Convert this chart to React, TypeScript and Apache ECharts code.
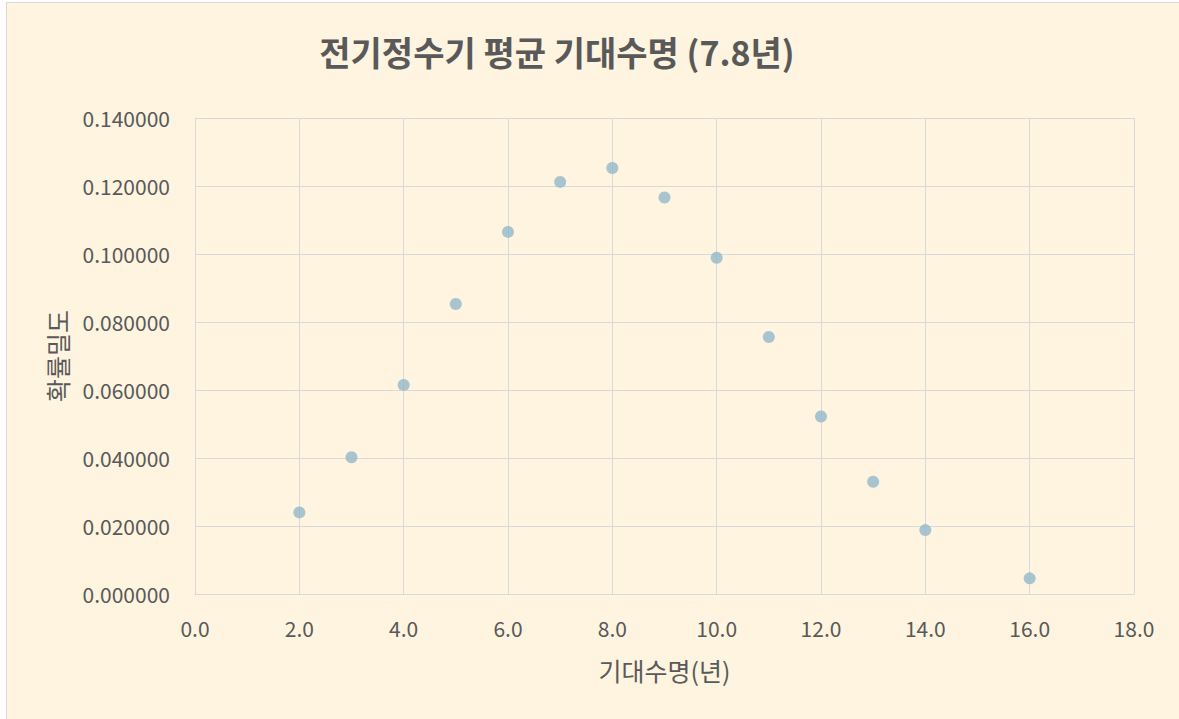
import React, { useEffect, useRef } from "react";
import * as echarts from "echarts";

const titleText = "전기정수기 평균 기대수명 (7.8년)";
const xAxisTitle = "기대수명(년)";
const yAxisTitle = "확률밀도";
const lifeYears = [2, 3, 4, 5, 6, 7, 8, 9, 10, 11, 12, 13, 14, 16];
const density = [0.0240, 0.0402, 0.0615, 0.0853, 0.1065, 0.1212, 0.1253, 0.1166, 0.0989, 0.0756, 0.0522, 0.0330, 0.0188, 0.0046];

const FONT = "'Noto Sans CJK KR', 'Noto Sans', sans-serif";

export default function App() {
  const ref = useRef<HTMLDivElement>(null);
  useEffect(() => {
    if (!ref.current) return;
    const chart = echarts.init(ref.current, undefined, { renderer: "svg" });
    const data = lifeYears.map((x, i) => [x, density[i]]);
    chart.setOption({
      animation: false,
      backgroundColor: "#FEF4DF",
      textStyle: { fontFamily: FONT },
      graphic: [
        {
          type: "text",
          x: 550,
          y: 48,
          style: {
            text: titleText,
            font: `bold 34px ${FONT}`,
            fill: "#595959",
            textAlign: "center",
            textVerticalAlign: "middle",
          },
        },
      ],
      grid: { left: 188, top: 115, right: 45, bottom: 125, containLabel: false },
      xAxis: {
        type: "value",
        min: 0,
        max: 18,
        interval: 2,
        name: xAxisTitle,
        nameLocation: "middle",
        nameGap: 63,
        nameTextStyle: { color: "#595959", fontSize: 25, fontFamily: FONT },
        axisLine: { show: true, lineStyle: { color: "#D9D9D9", width: 1 } },
        axisTick: { show: false },
        axisLabel: {
          color: "#595959",
          fontSize: 21,
          margin: 23,
          fontFamily: FONT,
          formatter: (v: number) => v.toFixed(1),
        },
        splitLine: { show: true, lineStyle: { color: "#D9D9D9", width: 1 } },
      },
      yAxis: {
        type: "value",
        min: 0,
        max: 0.14,
        interval: 0.02,
        name: yAxisTitle,
        nameLocation: "middle",
        nameGap: 126,
        nameRotate: 90,
        nameTextStyle: { color: "#595959", fontSize: 25, fontFamily: FONT },
        axisLine: { show: true, lineStyle: { color: "#D9D9D9", width: 1 } },
        axisTick: { show: false },
        axisLabel: {
          color: "#595959",
          fontSize: 21,
          margin: 25,
          fontFamily: FONT,
          formatter: (v: number) => v.toFixed(6),
        },
        splitLine: { show: true, lineStyle: { color: "#D9D9D9", width: 1 } },
      },
      series: [
        {
          type: "scatter",
          data,
          symbol: "circle",
          symbolSize: 12,
          itemStyle: { color: "#92B8CB" },
        },
      ],
    });
    return () => chart.dispose();
  }, []);
  return (
    <div
      style={{
        position: "fixed",
        left: 6,
        top: 2,
        width: 1180,
        height: 720,
        borderLeft: "1px solid #D9D9D9",
        borderTop: "1px solid #D9D9D9",
        background: "#FEF4DF",
      }}
    >
      <div ref={ref} style={{ width: 1172, height: 716 }} />
    </div>
  );
}
